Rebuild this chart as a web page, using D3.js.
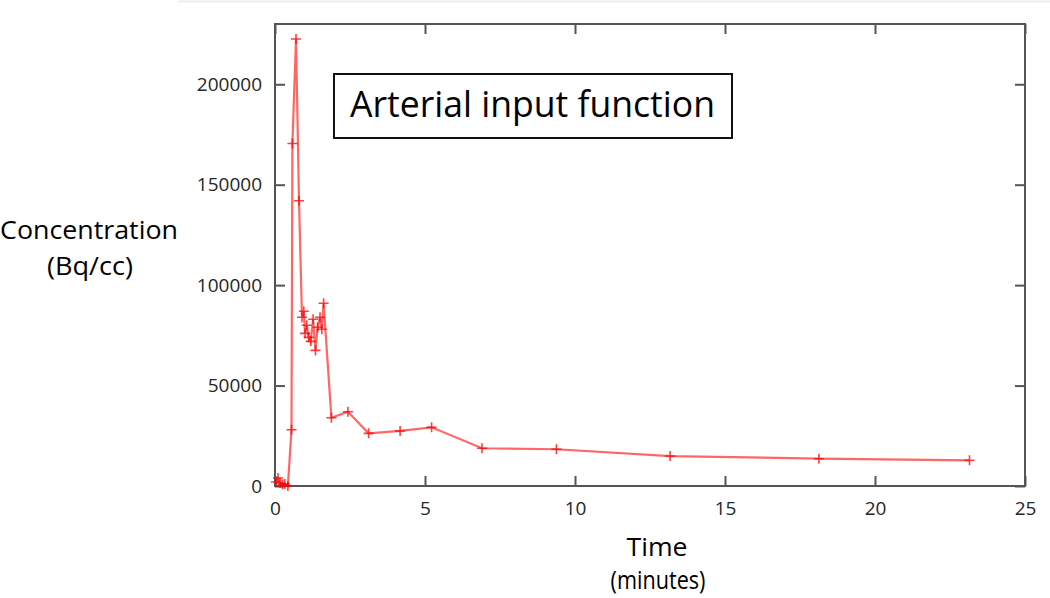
<html>
    <head>
        <title>Arterial input function</title>
        <style>
            body { margin: 0; background: #fff; }
        </style>
    </head>

    <body>
        <script src="https://d3js.org/d3.v7.min.js"></script>
        <script>
            var timeMin = [0.03, 0.10, 0.17, 0.25, 0.33, 0.43, 0.55, 0.58, 0.70, 0.80,
                           0.90, 0.96, 1.00, 1.06, 1.12, 1.19, 1.27, 1.35, 1.42, 1.50, 1.56, 1.62,
                           1.88, 2.43, 3.12, 4.17, 5.22, 6.90, 9.38, 13.17, 18.13, 23.15];
            var concentration = [2000, 4000, 1500, 800, 1000, 0, 28000, 170500, 222500, 142000,
                                 84000, 87000, 76000, 80000, 74000, 72000, 83000, 67500, 79000, 84000, 78000, 91000,
                                 34000, 37000, 26200, 27400, 29200, 18800, 18300, 14900, 13600, 12800];
            var xTicks = [0, 5, 10, 15, 20, 25];
            var yTicks = [0, 50000, 100000, 150000, 200000];

            var width = 1050, height = 598;
            var plotLeft = 275, plotRight = 1025, plotTop = 24, plotBottom = 486;

            var svg = d3.select('body')
                .append('svg')
                .attr('width', width)
                .attr('height', height)
                .style('font-family', 'Open Sans, sans-serif');

            // faint edge left over from the screenshot
            svg.append('line')
                .attr('x1', 178).attr('x2', width)
                .attr('y1', 1.5).attr('y2', 1.5)
                .style('stroke', '#eee')
                .style('stroke-width', 2);

            var x = d3.scaleLinear().domain([0, 25]).range([plotLeft, plotRight]);
            var y = d3.scaleLinear().domain([0, 230000]).range([plotBottom, plotTop]);

            function styleAxis(g, showText) {
                g.select('.domain').remove();
                g.selectAll('.tick line').style('stroke', '#555').style('stroke-width', 2);
                g.selectAll('.tick text')
                    .style('font-size', '19px')
                    .style('fill', '#262626')
                    .style('font-family', 'Open Sans, sans-serif')
                    .style('display', showText ? null : 'none');
            }

            svg.append('g')
                .attr('transform', 'translate(' + plotLeft + ',0)')
                .call(d3.axisLeft(y).tickValues(yTicks).tickSize(-10).tickPadding(13).tickFormat(d3.format('d')))
                .call(styleAxis, true);

            svg.append('g')
                .attr('transform', 'translate(' + plotRight + ',0)')
                .call(d3.axisRight(y).tickValues(yTicks).tickSize(-10))
                .call(styleAxis, false);

            svg.append('g')
                .attr('transform', 'translate(0,' + plotBottom + ')')
                .call(d3.axisBottom(x).tickValues(xTicks).tickSize(-10).tickPadding(16).tickFormat(d3.format('d')))
                .call(styleAxis, true);

            svg.append('g')
                .attr('transform', 'translate(0,' + plotTop + ')')
                .call(d3.axisTop(x).tickValues(xTicks).tickSize(-10))
                .call(styleAxis, false);

            svg.append('rect')
                .attr('x', plotLeft)
                .attr('y', plotTop)
                .attr('width', plotRight - plotLeft)
                .attr('height', plotBottom - plotTop)
                .style('fill', 'none')
                .style('stroke', '#555')
                .style('stroke-width', 2);

            var points = timeMin.map(function(t, i) {
                return { t: t, c: concentration[i] };
            });

            var line = d3.line()
                .x(function(d) { return x(d.t); })
                .y(function(d) { return y(d.c); });

            svg.append('path')
                .datum(points)
                .attr('d', line)
                .style('fill', 'none')
                .style('stroke', '#ff0000')
                .style('stroke-opacity', 0.6)
                .style('stroke-width', 2.2);

            svg.selectAll('path.mark')
                .data(points)
                .enter()
                .append('path')
                .attr('class', 'mark')
                .attr('d', function(d) {
                    var cx = x(d.t), cy = y(d.c);
                    return 'M' + (cx - 5) + ',' + cy + 'H' + (cx + 5) +
                           'M' + cx + ',' + (cy - 5) + 'V' + (cy + 5);
                })
                .style('stroke', '#ff0000')
                .style('stroke-opacity', 0.75)
                .style('stroke-width', 1.6);

            // title box
            svg.append('rect')
                .attr('x', 334)
                .attr('y', 74)
                .attr('width', 398)
                .attr('height', 64)
                .style('fill', '#fff')
                .style('stroke', '#111')
                .style('stroke-width', 2);

            svg.append('text')
                .attr('x', 350)
                .attr('y', 117)
                .attr('textLength', 365)
                .attr('lengthAdjust', 'spacingAndGlyphs')
                .style('font-size', '36px')
                .style('fill', '#000')
                .text('Arterial input function');

            // axis titles
            var labels = [
                { text: 'Concentration', x: 89, y: 239, w: 178 },
                { text: '(Bq/cc)', x: 90, y: 275, w: 86 },
                { text: 'Time', x: 657, y: 556, w: 61 },
                { text: '(minutes)', x: 658, y: 589, w: 95 }
            ];

            svg.selectAll('text.label')
                .data(labels)
                .enter()
                .append('text')
                .attr('class', 'label')
                .attr('x', function(d) { return d.x - d.w / 2; })
                .attr('y', function(d) { return d.y; })
                .attr('textLength', function(d) { return d.w; })
                .attr('lengthAdjust', 'spacingAndGlyphs')
                .style('font-size', '26px')
                .style('fill', '#000')
                .text(function(d) { return d.text; });
        </script>
    </body>
</html>
